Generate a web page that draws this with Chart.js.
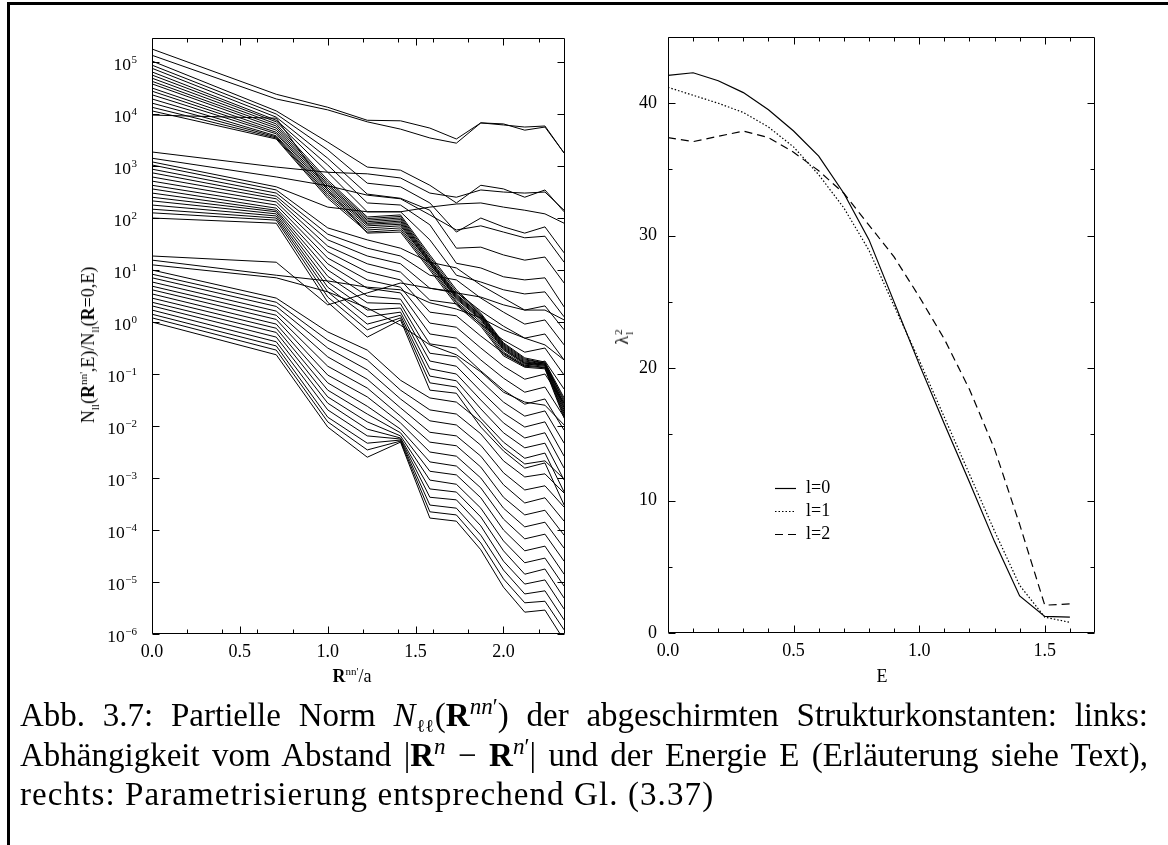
<!DOCTYPE html>
<html lang="de">
<head>
<meta charset="UTF-8">
<meta name="viewport" content="width=device-width, initial-scale=1.0">
<title>Abb. 3.7 Partielle Norm</title>
<script src="https://cdn.jsdelivr.net/npm/chart.js@4.4.1/dist/chart.umd.min.js"></script>
<style>
  html, body { margin: 0; padding: 0; background: #fff; }
  body { position: relative; width: 1168px; height: 845px; overflow: hidden;
         font-family: "Liberation Serif", "Times New Roman", serif; color: #000; }
  .rule-top { position: absolute; left: 7px; top: 2px; right: 0; height: 3px; background: #000; }
  .rule-left { position: absolute; left: 7px; top: 2px; bottom: 0; width: 3px; background: #000; }
  canvas { position: absolute; top: 0; }
  #normChart { left: 0; }
  #lambdaChart { left: 590px; }
  .label { position: absolute; font-size: 18px; line-height: 18px; white-space: nowrap; }
  .label sup, .label sub { font-size: 11px; line-height: 0; }
  .xlab { transform: translateX(-50%); }
  .ylab { transform: translate(-50%, -50%) rotate(-90deg); }
  .ss { display: inline-flex; flex-direction: column; vertical-align: middle;
        font-size: 11px; line-height: 11px; margin-left: 1px; }
  .caption { position: absolute; left: 20px; top: 696px; width: 1128px;
             font-size: 33px; line-height: 39px; }
  .caption div { text-align: justify; text-align-last: justify; }
  .caption div.last { text-align: left; text-align-last: left; letter-spacing: 1.1px; }
  .caption sup, .caption sub { font-size: 0.7em; line-height: 0; }
  .caption .ell { display: inline-block; font-family: "DejaVu Serif", serif; font-size: 0.55em;
                  line-height: 1; vertical-align: -0.35em; letter-spacing: 0; margin: 0 1px; }
</style>
</head>
<body>
  <div class="rule-top"></div>
  <div class="rule-left"></div>

  <canvas id="normChart" width="580" height="700"></canvas>
  <canvas id="lambdaChart" width="530" height="700"></canvas>

  <div class="label ylab" style="left:88px; top:345px">N<sub>ll</sub>(<b>R</b><sup>nn'</sup>,E)/N<sub>ll</sub>(<b>R</b>=0,E)</div>
  <div class="label xlab" style="left:352px; top:667px"><b>R</b><sup>nn'</sup>/a</div>
  <div class="label ylab" style="left:624px; top:337px">&lambda;<span class="ss"><span>2</span><span>l</span></span></div>
  <div class="label xlab" style="left:882px; top:667px">E</div>

  <div class="caption">
    <div>Abb. 3.7: Partielle Norm <i>N</i><span class="ell">&#8467;&#8467;</span>(<b>R</b><sup><i>nn</i>&prime;</sup>) der abgeschirmten Strukturkonstanten: links:</div>
    <div>Abh&auml;ngigkeit vom Abstand |<b>R</b><sup><i>n</i></sup> &minus; <b>R</b><sup><i>n</i>&prime;</sup>| und der Energie E (Erl&auml;uterung siehe Text),</div>
    <div class="last">rechts: Parametrisierung entsprechend Gl. (3.37)</div>
  </div>

  <script>
    // neighbour shell distances R/a (fcc shells)
    const shellDist = [0, 0.707, 1.0, 1.225, 1.414, 1.581, 1.732, 1.871, 2.0, 2.121, 2.236, 2.345];

    // log10 of N_ll(R,E)/N_ll(0,E), one row per energy
    const upperGroupExp = [
      [5.25, 4.38, 4.13, 3.88, 3.87, 3.73, 3.52, 3.83, 3.81, 3.69, 3.75, 3.25],
      [5.13, 4.29, 4.08, 3.85, 3.71, 3.54, 3.44, 3.83, 3.79, 3.75, 3.77, 3.25],
      [5.02, 4.06, 3.46, 2.98, 2.92, 2.63, 2.29, 2.63, 2.56, 2.40, 2.54, 2.12],
      [4.94, 4.00, 3.31, 2.67, 2.60, 2.29, 1.73, 2.00, 1.83, 1.71, 1.83, 1.33],
      [4.88, 3.94, 3.15, 2.46, 2.38, 2.15, 1.42, 1.44, 1.29, 1.19, 1.25, 0.75],
      [4.81, 3.88, 3.02, 2.29, 2.25, 1.87, 1.13, 1.04, 0.87, 0.81, 0.85, 0.29],
      [4.75, 3.85, 2.88, 2.12, 2.12, 1.58, 0.90, 0.77, 0.62, 0.54, 0.58, 0.10],
      [4.69, 3.81, 2.73, 2.02, 2.06, 1.29, 0.62, 0.17, -0.40, -0.69, -0.77, -1.46],
      [4.63, 3.77, 2.69, 1.99, 2.03, 1.25, 0.58, 0.15, -0.42, -0.71, -0.79, -1.50],
      [4.58, 3.73, 2.65, 1.96, 2.00, 1.21, 0.54, 0.13, -0.44, -0.73, -0.79, -1.54],
      [4.50, 3.69, 2.62, 1.93, 1.97, 1.19, 0.52, 0.12, -0.46, -0.75, -0.81, -1.58],
      [4.44, 3.65, 2.58, 1.90, 1.94, 1.17, 0.50, 0.10, -0.48, -0.77, -0.81, -1.62],
      [4.37, 3.62, 2.54, 1.88, 1.91, 1.15, 0.48, 0.08, -0.50, -0.79, -0.83, -1.65],
      [4.29, 3.58, 2.50, 1.85, 1.88, 1.13, 0.46, 0.06, -0.52, -0.79, -0.83, -1.69],
      [4.21, 3.56, 2.46, 1.81, 1.85, 1.12, 0.44, 0.04, -0.54, -0.81, -0.85, -1.73],
      [4.13, 3.54, 2.42, 1.77, 1.81, 1.08, 0.40, 0.00, -0.58, -0.83, -0.87, -1.77],
      [4.06, 3.52, 2.38, 1.73, 1.77, 1.04, 0.37, -0.04, -0.62, -0.85, -0.88, -1.81],
      [3.98, 3.92, 2.54, 1.71, 1.73, 1.00, 0.33, -0.08, -0.65, -0.87, -0.90, -1.85]
    ];
    const middleGroupExp = [
      [3.27, 2.98, 2.88, 2.85, 2.77, 2.48, 2.40, 2.54, 2.50, 2.48, 2.50, 2.15],
      [3.15, 2.79, 2.62, 2.44, 2.37, 2.06, 1.77, 1.85, 1.73, 1.62, 1.65, 1.15],
      [3.08, 2.60, 2.21, 2.12, 2.12, 2.21, 2.27, 2.29, 2.21, 2.15, 2.08, 1.90],
      [3.02, 2.54, 1.81, 1.58, 1.42, 1.15, 1.04, 0.71, 0.46, 0.23, 0.31, -0.15],
      [2.94, 2.48, 1.69, 1.42, 1.27, 0.90, 0.81, 0.46, 0.19, -0.04, 0.04, -0.44],
      [2.87, 2.42, 1.58, 1.27, 1.12, 0.65, 0.58, 0.21, -0.08, -0.31, -0.23, -0.73],
      [2.79, 2.37, 1.46, 1.12, 0.96, 0.42, 0.35, -0.04, -0.35, -0.58, -0.50, -1.02],
      [2.71, 2.31, 1.35, 0.96, 0.81, 0.19, 0.12, -0.27, -0.60, -0.85, -0.75, -1.29],
      [2.63, 2.25, 1.23, 0.81, 0.67, -0.02, -0.10, -0.50, -0.85, -1.10, -1.00, -1.56],
      [2.56, 2.19, 1.12, 0.65, 0.56, -0.23, -0.31, -0.73, -1.08, -1.35, -1.25, -1.83],
      [2.48, 2.15, 1.00, 0.50, 0.44, -0.42, -0.50, -0.94, -1.31, -1.58, -1.48, -2.08],
      [2.40, 2.12, 0.88, 0.37, 0.35, -0.60, -0.67, -1.13, -1.54, -1.81, -1.71, -2.33],
      [2.33, 2.08, 0.77, 0.23, 0.27, -0.75, -0.85, -1.33, -1.75, -2.02, -1.92, -2.58],
      [2.25, 2.04, 0.67, 0.10, 0.19, -0.90, -1.00, -1.50, -1.94, -2.23, -2.13, -2.81],
      [2.17, 2.00, 0.58, -0.04, 0.13, -1.04, -1.13, -1.67, -2.13, -2.42, -2.33, -3.04],
      [2.10, 1.96, 0.48, -0.15, 0.08, -1.17, -1.25, -1.85, -2.31, -2.62, -2.52, -3.27],
      [2.00, 1.90, 0.38, -0.29, 0.04, -1.31, -1.37, -2.02, -2.48, -2.81, -2.71, -3.52]
    ];
    const lowerGroupExp = [
      [1.27, 1.15, 0.33, 0.56, 0.75, 0.65, 0.56, 0.48, 0.33, 0.23, 0.23, 0.04],
      [1.19, 0.90, 0.79, 0.67, 0.62, 0.37, 0.25, 0.08, -0.15, -0.31, -0.44, -0.73],
      [1.10, 0.85, 0.58, 0.27, -0.06, -0.44, -0.63, -0.96, -1.35, -1.54, -1.60, -1.98],
      [1.00, 0.46, -0.19, -0.54, -1.12, -1.46, -1.54, -1.92, -2.42, -2.73, -2.67, -3.02],
      [0.92, 0.38, -0.35, -0.73, -1.31, -1.69, -1.77, -2.15, -2.67, -2.98, -2.92, -3.29],
      [0.85, 0.30, -0.50, -0.92, -1.48, -1.90, -1.98, -2.37, -2.90, -3.23, -3.15, -3.56],
      [0.77, 0.21, -0.67, -1.10, -1.65, -2.12, -2.19, -2.58, -3.13, -3.48, -3.38, -3.83],
      [0.69, 0.13, -0.85, -1.27, -1.81, -2.31, -2.38, -2.79, -3.37, -3.71, -3.62, -4.10],
      [0.62, 0.05, -1.02, -1.44, -1.94, -2.50, -2.58, -3.00, -3.58, -3.94, -3.85, -4.35],
      [0.54, -0.04, -1.17, -1.62, -2.06, -2.69, -2.77, -3.19, -3.79, -4.17, -4.08, -4.60],
      [0.46, -0.12, -1.31, -1.77, -2.13, -2.87, -2.94, -3.38, -4.00, -4.40, -4.31, -4.85],
      [0.38, -0.20, -1.44, -1.92, -2.19, -3.04, -3.12, -3.58, -4.21, -4.63, -4.54, -5.08],
      [0.31, -0.29, -1.56, -2.06, -2.23, -3.21, -3.27, -3.75, -4.40, -4.85, -4.75, -5.31],
      [0.23, -0.38, -1.69, -2.19, -2.25, -3.37, -3.42, -3.92, -4.60, -5.04, -4.96, -5.52],
      [0.15, -0.46, -1.83, -2.33, -2.27, -3.52, -3.58, -4.10, -4.77, -5.23, -5.17, -5.73],
      [0.08, -0.54, -1.92, -2.46, -2.29, -3.65, -3.71, -4.25, -4.94, -5.40, -5.37, -5.92],
      [0.00, -0.63, -2.02, -2.60, -2.31, -3.77, -3.83, -4.38, -5.10, -5.58, -5.54, -6.12]
    ];

    // right panel: lambda_l^2 against E
    const energies = [0, 0.1, 0.2, 0.3, 0.4, 0.5, 0.6, 0.7, 0.8, 0.9, 1.0, 1.1, 1.2, 1.3, 1.4, 1.5, 1.6];
    const lambda0 = [42.1, 42.3, 41.7, 40.8, 39.5, 37.9, 36.0, 33.2, 29.7, 25.0, 20.3, 15.8, 11.4, 6.9, 2.8, 1.25, 1.2];
    const lambda1 = [41.2, 40.6, 40.0, 39.3, 38.2, 36.7, 34.6, 32.1, 28.9, 24.7, 20.6, 16.3, 12.0, 7.7, 3.6, 1.2, 0.8];
    const lambda2 = [37.4, 37.1, 37.5, 37.9, 37.4, 36.3, 34.9, 33.2, 30.8, 28.4, 25.4, 22.2, 18.4, 13.9, 8.2, 2.1, 2.2];
    const lambdaLabels = ['l=0', 'l=1', 'l=2'];

    // ticks
    const normXMajor = [0, 0.5, 1.0, 1.5, 2.0];
    const normXMinor = [0.2, 0.4, 0.6, 0.8, 1.2, 1.4, 1.6, 1.8, 2.2];
    const decadeExps = [-6, -5, -4, -3, -2, -1, 0, 1, 2, 3, 4, 5];
    const lambdaXMajor = [0, 0.5, 1.0, 1.5];
    const lambdaXMinor = [0.1, 0.2, 0.3, 0.4, 0.6, 0.7, 0.8, 0.9, 1.1, 1.2, 1.3, 1.4, 1.6];
    const lambdaYMajor = [0, 10, 20, 30, 40];
    const lambdaYMinor = [5, 15, 25, 35];

    const serif = '"Liberation Serif", "Times New Roman", serif';
    const tickFont = { family: serif, size: 18 };

    // frame box with inward ticks on all four sides, plus 10^n labels for the log axis
    const framePlugin = {
      id: 'frameTicks',
      afterDatasetsDraw(chart, args, o) {
        const { ctx, chartArea: a } = chart;
        const xs = chart.scales.x, ys = chart.scales.y;
        ctx.save();
        ctx.strokeStyle = '#000';
        ctx.lineWidth = 1;
        ctx.beginPath();
        const L = Math.round(a.left) + 0.5, R = Math.round(a.right) - 0.5;
        const T = Math.round(a.top) + 0.5, B = Math.round(a.bottom) - 0.5;
        ctx.rect(L, T, R - L, B - T);
        o.xTicks.forEach(([v, len]) => {
          const p = Math.round(xs.getPixelForValue(v)) + 0.5;
          ctx.moveTo(p, B); ctx.lineTo(p, B - len);
          ctx.moveTo(p, T); ctx.lineTo(p, T + len);
        });
        o.yTicks.forEach(([v, len]) => {
          const p = Math.round(ys.getPixelForValue(v)) + 0.5;
          ctx.moveTo(L, p); ctx.lineTo(L + len, p);
          ctx.moveTo(R, p); ctx.lineTo(R - len, p);
        });
        ctx.stroke();

        if (o.powerLabels) {
          ctx.fillStyle = '#000';
          ctx.textBaseline = 'alphabetic';
          ctx.textAlign = 'left';
          const right = a.left - 15;
          o.powerLabels.forEach(k => {
            const py = ys.getPixelForValue(Math.pow(10, k));
            const sup = k < 0 ? '\u2212' + (-k) : String(k);
            ctx.font = '11px ' + serif;
            const ws = ctx.measureText(sup).width;
            ctx.fillText(sup, right - ws, py + 1);
            ctx.font = '17.5px ' + serif;
            const wb = ctx.measureText('10').width;
            ctx.fillText('10', right - ws - wb - 0.5, py + 8);
          });
        }
        ctx.restore();
      }
    };

    // small line legend placed inside the right panel
    const innerLegend = {
      id: 'innerLegend',
      afterDatasetsDraw(chart, args, o) {
        const { ctx, chartArea: a } = chart;
        ctx.save();
        ctx.font = '18px ' + serif;
        ctx.fillStyle = '#000';
        ctx.textBaseline = 'middle';
        chart.data.datasets.forEach((ds, i) => {
          const y = Math.round(a.top + o.top + i * o.step) + 0.5;
          ctx.strokeStyle = '#000';
          ctx.lineWidth = ds.borderWidth;
          ctx.setLineDash(ds.borderDash || []);
          ctx.beginPath();
          ctx.moveTo(a.left + o.left, y);
          ctx.lineTo(a.left + o.left + 21, y);
          ctx.stroke();
          ctx.setLineDash([]);
          ctx.fillText(ds.label, a.left + o.left + 31, y);
        });
        ctx.restore();
      }
    };

    const normSets = [upperGroupExp, middleGroupExp, lowerGroupExp].flat().map(row => ({
      data: row.map((e, i) => ({ x: shellDist[i], y: Math.pow(10, e) })),
      borderColor: '#000',
      borderWidth: 1,
      pointRadius: 0,
      tension: 0
    }));

    new Chart(document.getElementById('normChart'), {
      type: 'line',
      data: { datasets: normSets },
      options: {
        responsive: false,
        animation: false,
        devicePixelRatio: 1,
        layout: { padding: { top: 38, right: 15, left: 0, bottom: 0 } },
        plugins: {
          legend: { display: false },
          tooltip: { enabled: false },
          frameTicks: {
            xTicks: normXMajor.map(v => [v, 7]).concat(normXMinor.map(v => [v, 4])),
            yTicks: decadeExps.map(k => [Math.pow(10, k), 7]),
            powerLabels: decadeExps
          }
        },
        scales: {
          x: {
            type: 'linear', min: 0, max: 2.35,
            afterBuildTicks: s => { s.ticks = normXMajor.map(v => ({ value: v })); },
            afterFit: s => { s.height = 66; },
            grid: { display: false, drawTicks: false },
            border: { display: false },
            ticks: { font: tickFont, color: '#000', padding: 7, maxRotation: 0, autoSkip: false,
                     callback: v => Number(v).toFixed(1) }
          },
          y: {
            type: 'logarithmic', min: 1e-6, max: 2.9e5,
            afterBuildTicks: s => { s.ticks = decadeExps.map(k => ({ value: Math.pow(10, k) })); },
            afterFit: s => { s.width = 152; },
            grid: { display: false, drawTicks: false },
            border: { display: false },
            ticks: { display: false }
          }
        }
      },
      plugins: [framePlugin]
    });

    const dashes = [[], [1.5, 2], [8, 5]];
    const lambdaSets = [lambda0, lambda1, lambda2].map((vals, i) => ({
      label: lambdaLabels[i],
      data: vals.map((v, j) => ({ x: energies[j], y: v })),
      borderColor: '#000',
      borderWidth: 1.2,
      borderDash: dashes[i],
      pointRadius: 0,
      tension: 0
    }));

    new Chart(document.getElementById('lambdaChart'), {
      type: 'line',
      data: { datasets: lambdaSets },
      options: {
        responsive: false,
        animation: false,
        devicePixelRatio: 1,
        layout: { padding: { top: 37, right: 25, left: 0, bottom: 0 } },
        plugins: {
          legend: { display: false },
          tooltip: { enabled: false },
          frameTicks: {
            xTicks: lambdaXMajor.map(v => [v, 7]).concat(lambdaXMinor.map(v => [v, 4])),
            yTicks: lambdaYMajor.map(v => [v, 7]).concat(lambdaYMinor.map(v => [v, 4]))
          },
          innerLegend: { left: 107, top: 451, step: 23 }
        },
        scales: {
          x: {
            type: 'linear', min: 0, max: 1.7,
            afterBuildTicks: s => { s.ticks = lambdaXMajor.map(v => ({ value: v })); },
            afterFit: s => { s.height = 67; },
            grid: { display: false, drawTicks: false },
            border: { display: false },
            ticks: { font: tickFont, color: '#000', padding: 7, maxRotation: 0, autoSkip: false,
                     callback: v => Number(v).toFixed(1) }
          },
          y: {
            type: 'linear', min: 0, max: 45,
            afterBuildTicks: s => { s.ticks = lambdaYMajor.map(v => ({ value: v })); },
            afterFit: s => { s.width = 78; },
            grid: { display: false, drawTicks: false },
            border: { display: false },
            ticks: { font: tickFont, color: '#000', padding: 11, callback: v => String(v) }
          }
        }
      },
      plugins: [framePlugin, innerLegend]
    });
  </script>
</body>
</html>
